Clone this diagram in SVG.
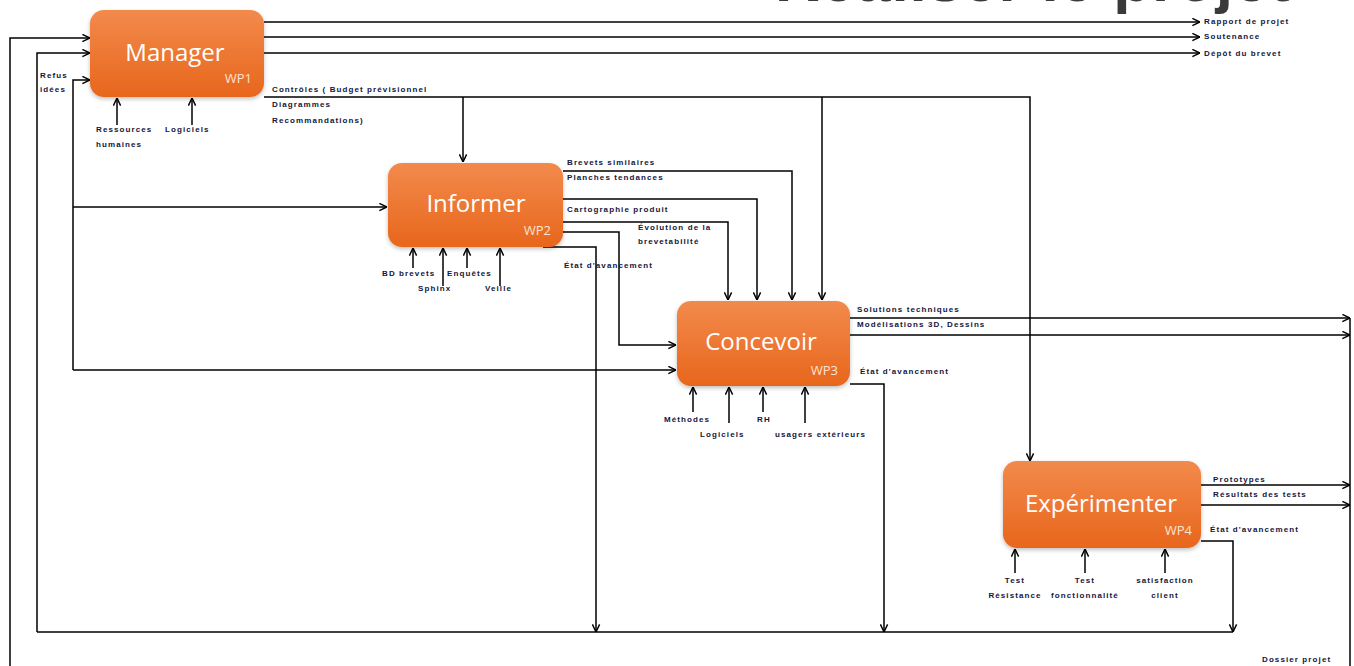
<svg xmlns="http://www.w3.org/2000/svg" width="1354" height="666" viewBox="0 0 1354 666">
<defs>
<linearGradient id="og" x1="0" y1="0" x2="0" y2="1">
<stop offset="0" stop-color="#f28a4c"/>
<stop offset="1" stop-color="#e8661c"/>
</linearGradient>
<filter id="sh" x="-10%" y="-10%" width="120%" height="130%">
<feDropShadow dx="0" dy="2" stdDeviation="2" flood-color="#000" flood-opacity="0.25"/>
</filter>
<marker id="ar" viewBox="0 0 10 10" refX="9.5" refY="5" markerWidth="9" markerHeight="9" markerUnits="userSpaceOnUse" orient="auto">
<path d="M1,1 L9.5,5 L1,9" fill="none" stroke="#000" stroke-width="1.6"/>
</marker>
</defs>
<style>
.box{fill:url(#og);filter:url(#sh)}
.nm{font-family:"Open Sans","Liberation Sans",sans-serif;fill:#fff;font-size:24px;text-anchor:middle}
.wp{font-family:"Open Sans","Liberation Sans",sans-serif;fill:#fde3d2;font-size:13px;text-anchor:end}
.lb{font-family:"Liberation Sans",Arial,sans-serif;font-size:8px;font-weight:bold;fill:#15153a;letter-spacing:1.1px}
.c{text-anchor:middle}
.ln{fill:none;stroke:#000;stroke-width:1.5}
.ln.a{marker-end:url(#ar)}
.title{font-family:"Liberation Sans",Arial,sans-serif;font-weight:bold;font-size:62px;fill:#3a3a3a}
</style>
<rect width="1354" height="666" fill="#fff"/>
<text class="title" x="775" y="1" textLength="515">Réaliser le projet</text>

<g id="connectors">
<path class="ln a" d="M264,22 H1200"/>
<path class="ln a" d="M264,37 H1200"/>
<path class="ln a" d="M264,53 H1200"/>
<path class="ln a" d="M10,666 V38 H90"/>
<path class="ln" d="M37,632 H1233"/>
<path class="ln a" d="M37,632 V53 H90"/>
<path class="ln a" d="M73,370 V80 H90"/>
<path class="ln a" d="M73,207 H387"/>
<path class="ln a" d="M73,370 H676"/>
<path class="ln a" d="M264,97 H1030 V461"/>
<path class="ln a" d="M463,97 V162"/>
<path class="ln a" d="M822,97 V300"/>
<path class="ln a" d="M563,171 H792 V300"/>
<path class="ln a" d="M563,199 H757 V300"/>
<path class="ln a" d="M563,222 H728 V300"/>
<path class="ln a" d="M563,232 H619 V345 H676"/>
<path class="ln a" d="M543,247 H596 V632"/>
<path class="ln a" d="M850,318 H1350"/>
<path class="ln a" d="M850,335 H1350"/>
<path class="ln a" d="M850,384 H884 V632"/>
<path class="ln a" d="M1201,485 H1350"/>
<path class="ln a" d="M1201,505 H1350"/>
<path class="ln a" d="M1201,541 H1233 V632"/>
<path class="ln" d="M1350,318 V666"/>
<path class="ln a" d="M117,125 V98"/>
<path class="ln a" d="M192,125 V98"/>
<path class="ln a" d="M413,268 V248"/>
<path class="ln a" d="M443,286 V248"/>
<path class="ln a" d="M467,268 V248"/>
<path class="ln a" d="M500,286 V248"/>
<path class="ln a" d="M693,412 V387"/>
<path class="ln a" d="M729,423 V387"/>
<path class="ln a" d="M763,412 V387"/>
<path class="ln a" d="M805,423 V387"/>
<path class="ln a" d="M1015,573 V549"/>
<path class="ln a" d="M1085,573 V549"/>
<path class="ln a" d="M1165,573 V549"/>
</g>

<g id="manager">
<rect class="box" x="90" y="10" width="174" height="87" rx="14"/>
<text class="nm" x="175" y="61">Manager</text>
<text class="wp" x="252" y="83">WP1</text>
</g>
<g id="informer">
<rect class="box" x="388" y="163" width="175" height="84" rx="14"/>
<text class="nm" x="476" y="212">Informer</text>
<text class="wp" x="551" y="235">WP2</text>
</g>
<g id="concevoir">
<rect class="box" x="677" y="301" width="173" height="85" rx="14"/>
<text class="nm" x="761" y="350">Concevoir</text>
<text class="wp" x="838" y="375">WP3</text>
</g>
<g id="experimenter">
<rect class="box" x="1003" y="461" width="198" height="87" rx="14"/>
<text class="nm" x="1101" y="512">Expérimenter</text>
<text class="wp" x="1192" y="535">WP4</text>
</g>

<g id="labels">
<text class="lb" x="1204" y="24">Rapport de projet</text>
<text class="lb" x="1204" y="39">Soutenance</text>
<text class="lb" x="1204" y="56">Dépôt du brevet</text>
<text class="lb" x="40" y="78">Refus</text>
<text class="lb" x="40" y="92">idées</text>
<text class="lb" x="96" y="132">Ressources</text>
<text class="lb" x="96" y="147">humaines</text>
<text class="lb" x="165" y="132">Logiciels</text>
<text class="lb" x="272" y="92">Contrôles ( Budget prévisionnel</text>
<text class="lb" x="272" y="107">Diagrammes</text>
<text class="lb" x="272" y="123">Recommandations)</text>
<text class="lb" x="567" y="165">Brevets similaires</text>
<text class="lb" x="567" y="180">Planches tendances</text>
<text class="lb" x="567" y="212">Cartographie produit</text>
<text class="lb" x="638" y="230">Évolution de la</text>
<text class="lb" x="638" y="244">brevetabilité</text>
<text class="lb" x="564" y="268">État d'avancement</text>
<text class="lb" x="382" y="276">BD brevets</text>
<text class="lb" x="418" y="291">Sphinx</text>
<text class="lb" x="447" y="276">Enquêtes</text>
<text class="lb" x="485" y="291">Veille</text>
<text class="lb" x="857" y="312">Solutions techniques</text>
<text class="lb" x="857" y="327">Modélisations 3D, Dessins</text>
<text class="lb" x="860" y="374">État d'avancement</text>
<text class="lb" x="664" y="422">Méthodes</text>
<text class="lb" x="700" y="437">Logiciels</text>
<text class="lb" x="757" y="422">RH</text>
<text class="lb" x="775" y="437">usagers extérieurs</text>
<text class="lb" x="1213" y="482">Prototypes</text>
<text class="lb" x="1213" y="497">Résultats des tests</text>
<text class="lb" x="1210" y="532">État d'avancement</text>
<text class="lb c" x="1015" y="583">Test</text>
<text class="lb c" x="1015" y="598">Résistance</text>
<text class="lb c" x="1085" y="583">Test</text>
<text class="lb c" x="1085" y="598">fonctionnalité</text>
<text class="lb c" x="1165" y="583">satisfaction</text>
<text class="lb c" x="1165" y="598">client</text>
<text class="lb" x="1262" y="662">Dossier projet</text>
</g>
</svg>
